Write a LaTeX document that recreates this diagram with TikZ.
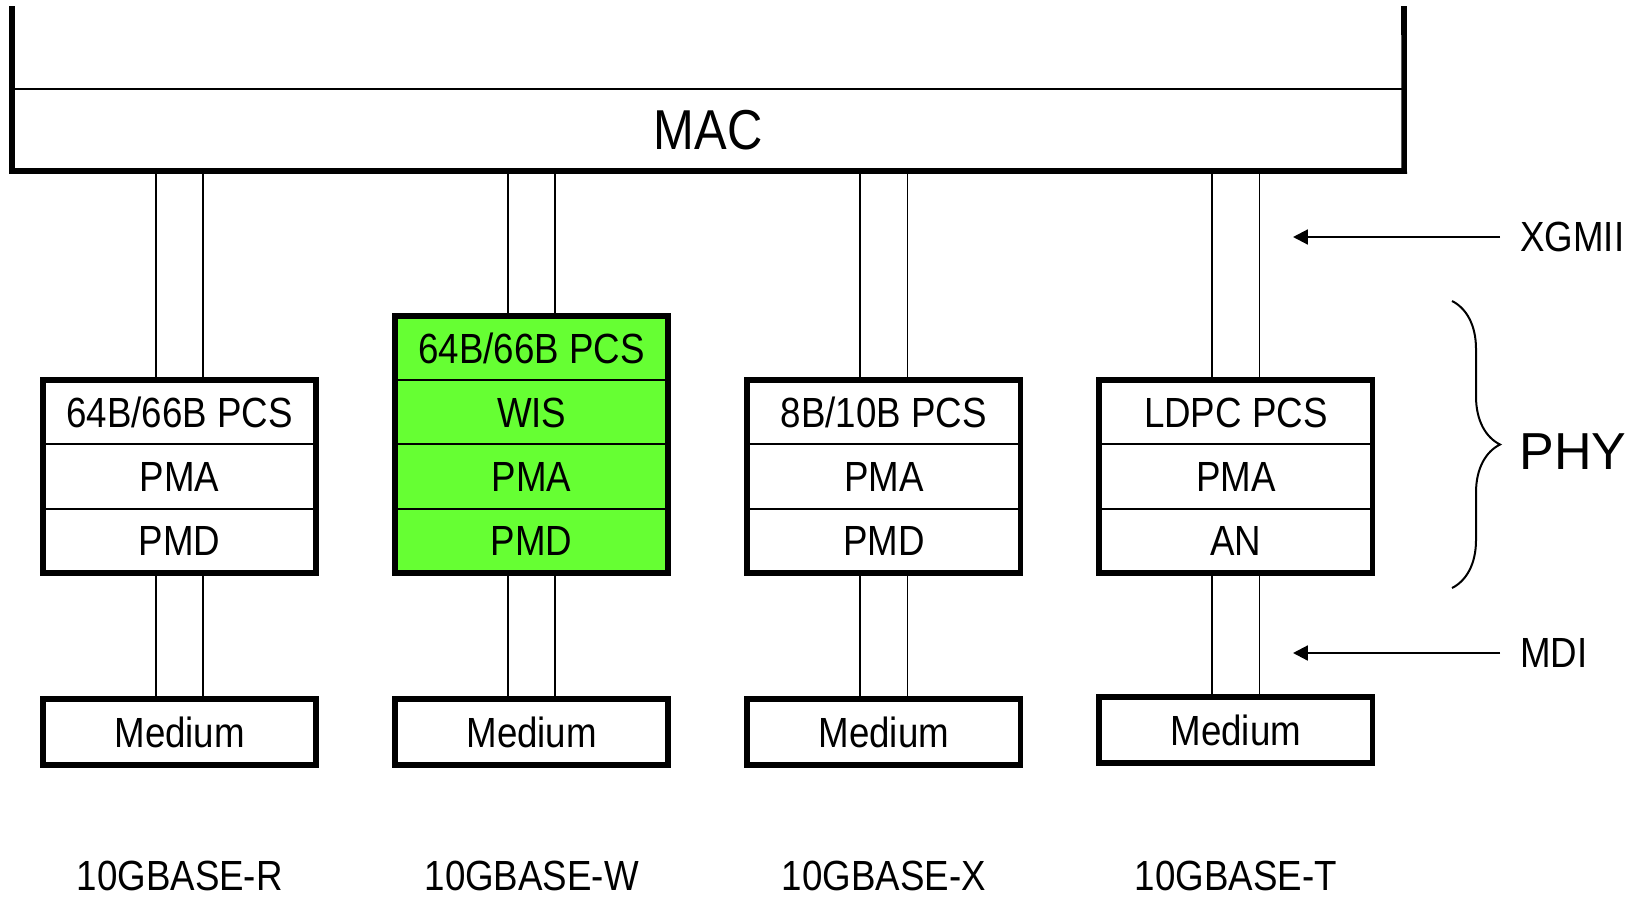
\documentclass[tikz,border=0pt]{standalone}
\usepackage{fontspec}
\setmainfont{Liberation Sans}[FakeStretch=0.87]
\newfontfamily\widesf{Liberation Sans}
\usepackage{tikz}
\usetikzlibrary{arrows.meta}
\usetikzlibrary{positioning}
\usetikzlibrary{decorations.pathreplacing}

\definecolor{wisgreen}{RGB}{102,255,51}

\begin{document}
\begin{tikzpicture}[x=0.025cm,y=-0.025cm,>={Triangle[length=0.37cm,width=0.37cm]},
  layer/.style={draw,line width=0.05cm,outer sep=0pt,inner sep=0pt,
    minimum width=6.825cm,minimum height=1.6075cm,text height=0.756cm,text depth=0pt,
    font=\fontsize{30}{36}\selectfont},
  wis layer/.style={layer,fill=wisgreen},
  medium/.style={layer,line width=0.14cm,minimum height=1.65cm},
  frame/.style={line width=0.14cm},
  link/.style={line width=0.045cm},
  tag/.style={font=\fontsize{30}{36}\selectfont},
  base name/.style={tag,inner ysep=0pt,outer sep=0pt},
  pointer/.style={->,line width=0.055cm}]

  \useasboundingbox (0,0) rectangle (1643,896);

  % MAC
  \node[outer sep=0pt,minimum width=34.8cm,minimum height=2.05cm,
    font=\fontsize{40}{48}\selectfont] (mac) at (708,130) {MAC};
  \coordinate (macTL) at (12,6);
  \coordinate (macTR) at (1404,6);
  \draw[line width=0.06cm] (mac.north west) -- (mac.north east);
  \draw[frame] (macTL) |- (mac.south east) -- (macTR);

  % 10GBASE-R
  \node[layer] (pcsR) at (179.7,412.2) {64B/66B PCS};
  \node[layer] (pmaR) [below=0pt of pcsR] {PMA};
  \node[layer] (pmdR) [below=0pt of pmaR] {PMD};
  \draw[frame] (pcsR.north west) rectangle (pmdR.south east);
  \node[medium] (medR) [below=3.15cm of pmdR] {Medium};
  \node[base name] (nameR) [below=2.4cm of medR] {10GBASE-R};

  % 10GBASE-W
  \node[wis layer] (pcsW) at (531.7,347.9) {64B/66B PCS};
  \node[wis layer] (wisW) [below=0pt of pcsW] {WIS};
  \node[wis layer] (pmaW) [below=0pt of wisW] {PMA};
  \node[wis layer] (pmdW) [below=0pt of pmaW] {PMD};
  \draw[frame] (pcsW.north west) rectangle (pmdW.south east);
  \node[medium] (medW) [below=3.15cm of pmdW] {Medium};
  \node[base name] (nameW) [below=2.4cm of medW] {10GBASE-W};

  % 10GBASE-X
  \node[layer] (pcsX) at (883.8,412.2) {8B/10B PCS};
  \node[layer] (pmaX) [below=0pt of pcsX] {PMA};
  \node[layer] (pmdX) [below=0pt of pmaX] {PMD};
  \draw[frame] (pcsX.north west) rectangle (pmdX.south east);
  \node[medium] (medX) [below=3.15cm of pmdX] {Medium};
  \node[base name] (nameX) [below=2.4cm of medX] {10GBASE-X};

  % 10GBASE-T
  \node[layer] (pcsT) at (1235.8,412.2) {LDPC PCS};
  \node[layer] (pmaT) [below=0pt of pcsT] {PMA};
  \node[layer] (anT)  [below=0pt of pmaT] {AN};
  \draw[frame] (pcsT.north west) rectangle (anT.south east);
  \node[medium] (medT) [below=3.1cm of anT] {Medium};
  \node[base name] (nameT) [below=2.45cm of medT] {10GBASE-T};

  % XGMII and MDI
  \path[link]
    ([xshift=-0.59cm]mac.south -| pcsR.north) edge ([xshift=-0.59cm]pcsR.north)
    ([xshift=0.59cm]mac.south -| pcsR.north)  edge ([xshift=0.59cm]pcsR.north)
    ([xshift=-0.59cm]mac.south -| pcsW.north) edge ([xshift=-0.59cm]pcsW.north)
    ([xshift=0.59cm]mac.south -| pcsW.north)  edge ([xshift=0.59cm]pcsW.north)
    ([xshift=-0.59cm]mac.south -| pcsX.north) edge ([xshift=-0.59cm]pcsX.north)
    ([xshift=0.59cm]mac.south -| pcsX.north)  edge ([xshift=0.59cm]pcsX.north)
    ([xshift=-0.59cm]mac.south -| pcsT.north) edge ([xshift=-0.59cm]pcsT.north)
    ([xshift=0.59cm]mac.south -| pcsT.north)  edge ([xshift=0.59cm]pcsT.north)
    ([xshift=-0.59cm]pmdR.south) edge ([xshift=-0.59cm]medR.north)
    ([xshift=0.59cm]pmdR.south)  edge ([xshift=0.59cm]medR.north)
    ([xshift=-0.59cm]pmdW.south) edge ([xshift=-0.59cm]medW.north)
    ([xshift=0.59cm]pmdW.south)  edge ([xshift=0.59cm]medW.north)
    ([xshift=-0.59cm]pmdX.south) edge ([xshift=-0.59cm]medX.north)
    ([xshift=0.59cm]pmdX.south)  edge ([xshift=0.59cm]medX.north)
    ([xshift=-0.59cm]anT.south)  edge ([xshift=-0.59cm]medT.north)
    ([xshift=0.59cm]anT.south)   edge ([xshift=0.59cm]medT.north);

  \node[tag,anchor=west,inner xsep=0.5cm] (xgmii) at (1500,237) {XGMII};
  \node[tag,anchor=west,inner xsep=0.5cm] (mdi)   at (1500,653) {MDI};
  \coordinate (xgmiiTip) at (1293,237);
  \coordinate (mdiTip)   at (1293,653);
  \draw[pointer] (xgmii.west) -- (xgmiiTip);
  \draw[pointer] (mdi.west) -- (mdiTip);

  % PHY
  \coordinate (phyTop) at (1452,301);
  \coordinate (phyBot) at (1452,588);
  \draw[line width=0.05cm,decorate,decoration={brace,amplitude=1.2cm}] (phyTop) -- (phyBot);
  \node[anchor=west,inner xsep=0.45cm,font=\widesf\fontsize{37}{44}\selectfont] (phy) at (1501,452) {PHY};
\end{tikzpicture}
\end{document}
